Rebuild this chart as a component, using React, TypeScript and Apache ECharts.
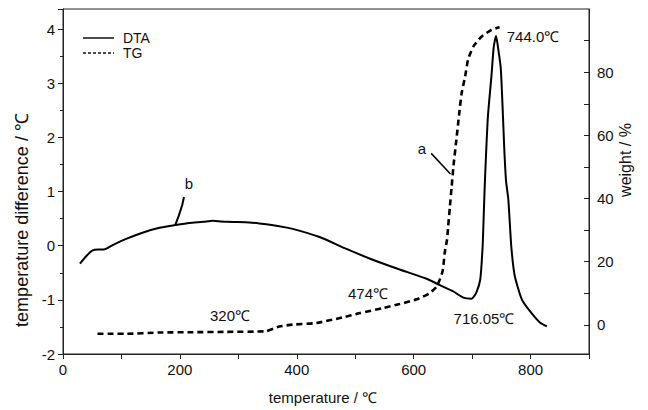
import React, { useEffect, useRef } from "react";
import * as echarts from "echarts";

// DTA curve: [temperature (°C), temperature difference (°C)]
const dtaTemps = [29, 40, 50, 60, 70, 85, 107, 136, 165, 192, 216, 240, 256, 280, 319, 336, 370, 393, 439, 485, 530, 576, 622, 645, 667, 685, 699, 707, 714, 718, 720, 722, 727, 733, 737, 741, 745, 749, 752, 755, 758, 762, 767, 773, 785, 799, 816, 828];
const dtaValues = [-0.33, -0.19, -0.09, -0.07, -0.07, 0.01, 0.12, 0.24, 0.33, 0.38, 0.42, 0.44, 0.46, 0.44, 0.43, 0.41, 0.36, 0.31, 0.16, -0.06, -0.26, -0.44, -0.61, -0.73, -0.84, -0.96, -0.98, -0.87, -0.62, -0.01, 0.6, 1.22, 2.38, 3.12, 3.67, 3.87, 3.61, 3.28, 2.6, 1.8, 1.2, 0.85, -0.01, -0.56, -0.99, -1.21, -1.42, -1.49];

// pointer "b" on DTA
const bTemps = [192, 198, 204, 207];
const bValues = [0.38, 0.55, 0.75, 0.9];

// TG curve: [temperature (°C), weight (%)]
const tgTemps = [59, 80, 107, 165, 222, 279, 347, 360, 370, 393, 433, 479, 507, 547, 576, 605, 627, 639, 645, 650, 653, 657, 659, 662, 665, 668, 673, 678, 682, 688, 693, 702, 716, 733, 747];
const tgValues = [-2.8, -2.8, -2.8, -2.4, -2.3, -2.2, -2.0, -1.2, -0.5, 0.1, 0.6, 2.4, 3.7, 5.3, 6.6, 8.1, 10.0, 12.1, 14.5, 17.4, 22.7, 26.9, 31.1, 37.4, 43.8, 50.1, 58.5, 67, 73.3, 78.6, 83.9, 88.1, 91.2, 93.4, 94.2];

// pointer "a" on TG
const aTemps = [630, 663];
const aValues = [54.3, 47.8];

const xTicks = [0, 200, 400, 600, 800];
const leftTicks = [-2, -1, 0, 1, 2, 3, 4];
const rightLabels = [0, 20, 40, 60, 80];
const rightTicks = [0, 10, 20, 30, 40, 50, 60, 70, 80, 90];
const legendNames = ["DTA", "TG"];

const FONT = "'Liberation Sans', Arial, sans-serif";

const zip = (a: number[], b: number[]) => a.map((v, i) => [v, b[i]]);

export default function App() {
  const ref = useRef<HTMLDivElement>(null);
  useEffect(() => {
    if (!ref.current) return;
    const chart = echarts.init(ref.current, undefined, { renderer: "svg" });
    const txt = (text: string, x: number, y: number, size = 15, rotation = 0, align = "center") => ({
      type: "text",
      x,
      y,
      rotation,
      style: { text, fill: "#111", font: `${size}px ${FONT}`, align, verticalAlign: "middle" },
    });
    chart.setOption({
      animation: false,
      backgroundColor: "#fff",
      grid: { left: 63, right: 59, top: 9, bottom: 56, show: true, borderColor: "#222", borderWidth: 1 },
      xAxis: {
        type: "value",
        min: 0,
        max: 900,
        interval: 100,
        axisLine: { show: true, onZero: false, lineStyle: { color: "#222" } },
        axisTick: { show: true, inside: false, length: 5, lineStyle: { color: "#222" } },
        splitLine: { show: false },
        axisLabel: {
          color: "#111",
          fontFamily: FONT,
          fontSize: 15,
          margin: 8,
          formatter: (v: number) => (xTicks.includes(v) ? String(v) : ""),
        },
      },
      yAxis: [
        {
          type: "value",
          min: -2,
          max: 4.37,
          interval: 1,
          axisLine: { show: true, onZero: false, lineStyle: { color: "#222" } },
          axisTick: { show: true, length: 5, lineStyle: { color: "#222" } },
          minorTick: { show: true, splitNumber: 2, length: 3, lineStyle: { color: "#222" } },
          splitLine: { show: false },
          axisLabel: {
            color: "#111",
            fontFamily: FONT,
            fontSize: 15,
            margin: 8,
            formatter: (v: number) => (leftTicks.includes(v) ? String(v) : ""),
          },
        },
        {
          type: "value",
          position: "right",
          min: -9.2,
          max: 100,
          axisLine: { show: true, onZero: false, lineStyle: { color: "#222" } },
          axisTick: { show: true, inside: true, length: 5, customValues: rightTicks, lineStyle: { color: "#222" } },
          splitLine: { show: false },
          axisLabel: {
            color: "#111",
            fontFamily: FONT,
            fontSize: 15,
            margin: 8,
            customValues: rightLabels,
          },
        },
      ],
      series: [
        {
          name: "DTA",
          type: "line",
          data: zip(dtaTemps, dtaValues),
          symbol: "none",
          smooth: 0.2,
          lineStyle: { color: "#000", width: 2 },
          yAxisIndex: 0,
        },
        {
          name: "DTA-b",
          type: "line",
          data: zip(bTemps, bValues),
          symbol: "none",
          lineStyle: { color: "#000", width: 2 },
          yAxisIndex: 0,
        },
        {
          name: "TG",
          type: "line",
          data: zip(tgTemps, tgValues),
          symbol: "none",
          smooth: 0.2,
          lineStyle: { color: "#000", width: 2.6, type: [6, 4] },
          yAxisIndex: 1,
        },
        {
          name: "TG-a",
          type: "line",
          data: zip(aTemps, aValues),
          symbol: "none",
          lineStyle: { color: "#000", width: 1.5 },
          yAxisIndex: 1,
        },
      ],
      graphic: [
        { type: "line", shape: { x1: 83, y1: 38, x2: 114, y2: 38 }, style: { stroke: "#111", lineWidth: 1.5 } },
        txt(legendNames[0], 123, 38, 14, 0, "left"),
        { type: "line", shape: { x1: 83, y1: 53, x2: 114, y2: 53 }, style: { stroke: "#111", lineWidth: 1.5, lineDash: [3, 2] } },
        txt(legendNames[1], 123, 53, 14, 0, "left"),
        txt("temperature / ℃", 323, 397, 15),
        txt("temperature difference / ℃", 22, 220, 18, Math.PI / 2),
        txt("weight / %", 625, 160, 16, Math.PI / 2),
        txt("744.0℃", 533, 36, 15),
        txt("716.05℃", 484, 318, 15),
        txt("474℃", 368, 293, 15),
        txt("320℃", 230, 315, 15),
        txt("a", 422, 148, 15),
        txt("b", 189, 183, 15),
      ],
    });
    return () => chart.dispose();
  }, []);
  return <div ref={ref} style={{ position: "fixed", left: 0, top: 0, width: 648, height: 410, background: "#fff" }} />;
}
